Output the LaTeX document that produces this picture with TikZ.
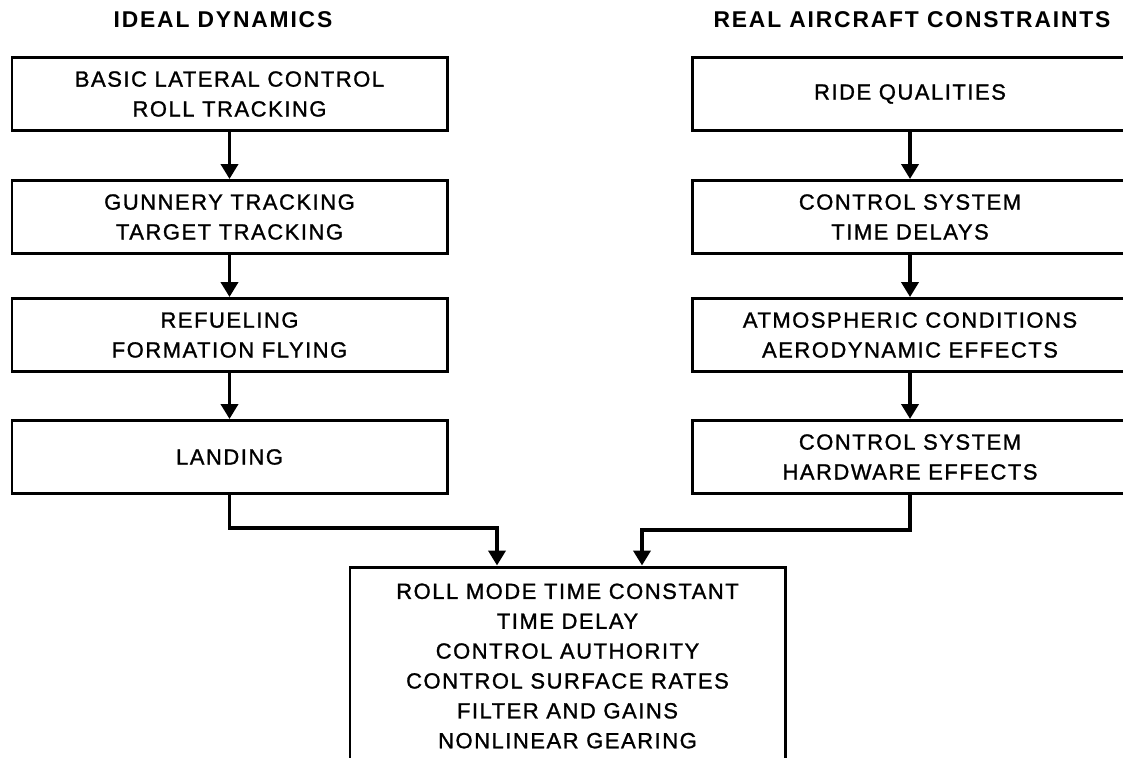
\documentclass[tikz,border=0pt]{standalone}
\usepackage{fontspec}
\setmainfont{Liberation Sans}[LetterSpace=8]
\newfontfamily\boxfont{Liberation Sans}[LetterSpace=7, FakeBold=1.2]
\usetikzlibrary{arrows.meta}

\begin{document}
\begin{tikzpicture}[x=0.2mm, y=-0.2mm,
  box/.style={draw, line width=1.7pt, minimum width=87mm, minimum height=14.6mm,
    inner sep=0pt, align=center, font=\boxfont\fontsize{12.5}{17}\selectfont},
  head/.style={font=\bfseries\fontsize{13}{15}\selectfont},
  flow/.style={line width=2.2pt, -{Triangle[width=3.4mm, length=3mm]}}]
  \clip (0,0) rectangle (1123,757);
  \fill[white] (0,0) rectangle (1123,757);
  % Spaltenköpfe
  \node[head] (hl) at (223,20) {IDEAL DYNAMICS};
  \node[head] (hr) at (912,20) {REAL AIRCRAFT CONSTRAINTS};
  % linke Spalte
  \node[box] (l1) at (229.5,94)  {BASIC LATERAL CONTROL\\ROLL TRACKING};
  \node[box] (l2) at (229.5,217) {GUNNERY TRACKING\\TARGET TRACKING};
  \node[box] (l3) at (229.5,335) {REFUELING\\FORMATION FLYING};
  \node[box] (l4) at (229.5,457) {LANDING};
  % rechte Spalte (rechter Rand abgeschnitten)
  \node[box] (r1) at (910,94)  {RIDE QUALITIES};
  \node[box] (r2) at (910,217) {CONTROL SYSTEM\\TIME DELAYS};
  \node[box] (r3) at (910,335) {ATMOSPHERIC CONDITIONS\\AERODYNAMIC EFFECTS};
  \node[box] (r4) at (910,457) {CONTROL SYSTEM\\HARDWARE EFFECTS};
  % Ergebnis (unterer Rand abgeschnitten)
  \node[box, minimum height=39.6mm] (res) at (567.5,666)
    {ROLL MODE TIME CONSTANT\\TIME DELAY\\CONTROL AUTHORITY\\
     CONTROL SURFACE RATES\\FILTER AND GAINS\\NONLINEAR GEARING};
  % Pfeile
  \foreach \a/\b in {l1/l2, l2/l3, l3/l4, r1/r2, r2/r3, r3/r4}{
    \draw[flow] (\a) -- (\b);
  }
  \coordinate (jl) at (497,528);
  \coordinate (jr) at (642,530);
  \draw[flow] (l4.south) |- (jl) -- (jl |- res.north);
  \draw[flow] (r4.south) |- (jr) -- (jr |- res.north);
\end{tikzpicture}
\end{document}
